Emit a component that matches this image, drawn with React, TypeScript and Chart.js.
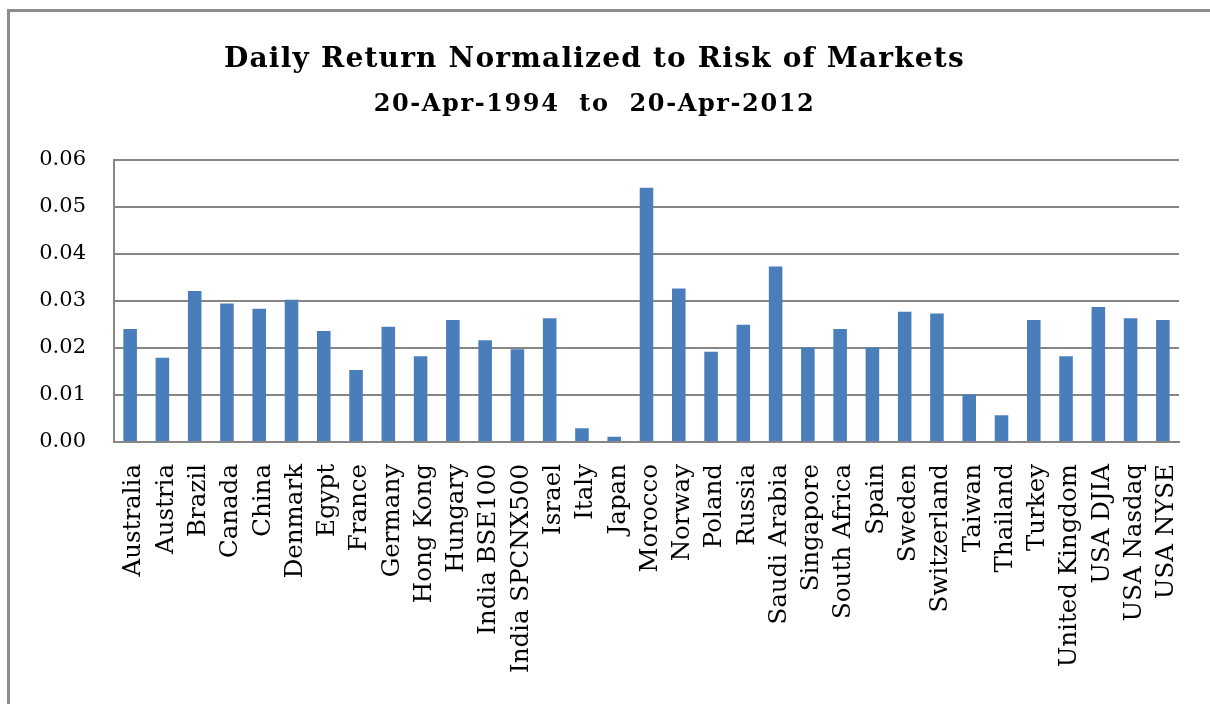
import React, { useEffect, useRef } from "react";
import { Chart, registerables } from "chart.js";

Chart.register(...registerables);

const titleText = "Daily Return Normalized to Risk of Markets";
const subtitleText = "20-Apr-1994  to  20-Apr-2012";

const markets = [
  "Australia", "Austria", "Brazil", "Canada", "China", "Denmark", "Egypt",
  "France", "Germany", "Hong Kong", "Hungary", "India BSE100", "India SPCNX500",
  "Israel", "Italy", "Japan", "Morocco", "Norway", "Poland", "Russia",
  "Saudi Arabia", "Singapore", "South Africa", "Spain", "Sweden", "Switzerland",
  "Taiwan", "Thailand", "Turkey", "United Kingdom", "USA DJIA", "USA Nasdaq", "USA NYSE",
];

const normalizedReturn = [
  0.0240, 0.0179, 0.0321, 0.0294, 0.0283, 0.0302, 0.0236,
  0.0153, 0.0245, 0.0182, 0.0259, 0.0216, 0.0197,
  0.0263, 0.0029, 0.0011, 0.0540, 0.0326, 0.0192, 0.0249,
  0.0373, 0.0201, 0.0240, 0.0201, 0.0277, 0.0273,
  0.0101, 0.0057, 0.0259, 0.0182, 0.0287, 0.0263, 0.0259,
];

const yMin = 0;
const yMax = 0.06;
const yStep = 0.01;

const FONT = "'DejaVu Serif', 'Liberation Serif', serif";

// widen the title texts slightly (the original uses a wide bold serif)
const spacedTitles = {
  id: "spacedTitles",
  beforeDraw(chart: any) {
    const spacingFor: Record<string, string> = {
      [titleText]: "1.2px",
      [subtitleText]: "1.6px",
    };
    (chart.boxes || []).forEach((box: any) => {
      const text = box && box.options && box.options.text;
      if (typeof text !== "string" || !(text in spacingFor) || box.__spaced) return;
      const orig = box.draw.bind(box);
      box.draw = (...args: any[]) => {
        const ctx: any = chart.ctx;
        const prev = ctx.letterSpacing;
        ctx.letterSpacing = spacingFor[text];
        orig(...args);
        ctx.letterSpacing = prev || "0px";
      };
      box.__spaced = true;
    });
  },
};

export default function App() {
  const canvasRef = useRef<HTMLCanvasElement | null>(null);

  useEffect(() => {
    document.documentElement.style.overflow = "hidden";
    document.body.style.overflow = "hidden";
    const canvas = canvasRef.current;
    if (!canvas) return;
    const chart = new Chart(canvas, {
      type: "bar",
      data: {
        labels: markets,
        datasets: [
          {
            label: "Normalized daily return",
            data: normalizedReturn,
            backgroundColor: "#4a7ebb",
            borderWidth: 0,
            barPercentage: 0.42,
            categoryPercentage: 1,
          },
        ],
      },
      plugins: [spacedTitles],
      options: {
        responsive: false,
        animation: false,
        devicePixelRatio: 1,
        layout: { padding: { left: 0, right: 31, top: 0, bottom: 0 } },
        plugins: {
          legend: { display: false },
          tooltip: { enabled: false },
          title: {
            display: true,
            text: titleText,
            color: "#000",
            font: { family: FONT, size: 28, weight: "bold", lineHeight: 1.2 },
            padding: { top: 31.2, bottom: 0 },
            align: "center",
          },
          subtitle: {
            display: true,
            text: subtitleText,
            color: "#000",
            font: { family: FONT, size: 24, weight: "bold", lineHeight: 1.2 },
            padding: { top: 13.2, bottom: 40.8 },
          },
        },
        scales: {
          x: {
            grid: { display: false, drawTicks: false },
            border: { display: true, color: "#868686", width: 2 },
            ticks: {
              autoSkip: false,
              maxRotation: 90,
              minRotation: 90,
              padding: 22,
              labelOffset: 4,
              color: "#000",
              font: { family: FONT, size: 24.5 },
            },
            afterFit: (scale: any) => {
              scale.height = 260;
              scale.paddingRight = 0;
              scale.paddingLeft = 0;
            },
          },
          y: {
            min: yMin,
            max: yMax,
            grid: { color: "#868686", lineWidth: 2, drawTicks: false },
            border: { display: true, color: "#868686", width: 2 },
            ticks: {
              stepSize: yStep,
              padding: 28,
              color: "#000",
              font: { family: FONT, size: 21 },
              callback: (v: any) => Number(v).toFixed(2),
            },
            afterFit: (scale: any) => {
              scale.width = 104;
            },
          },
        },
      },
    });
    return () => chart.destroy();
  }, []);

  return (
    <div
      style={{
        position: "fixed",
        left: 0,
        top: 0,
        width: 1210,
        height: 704,
        overflow: "hidden",
        background: "#fff",
      }}
    >
      <div
        style={{
          position: "absolute",
          left: 7,
          top: 9,
          width: 1300,
          height: 800,
          borderTop: "3px solid #8c8c8c",
          borderLeft: "3px solid #8c8c8c",
          boxSizing: "border-box",
        }}
      />
      <canvas
        ref={canvasRef}
        width={1200}
        height={690}
        style={{ position: "absolute", left: 10, top: 12, width: 1200, height: 690 }}
      />
    </div>
  );
}
